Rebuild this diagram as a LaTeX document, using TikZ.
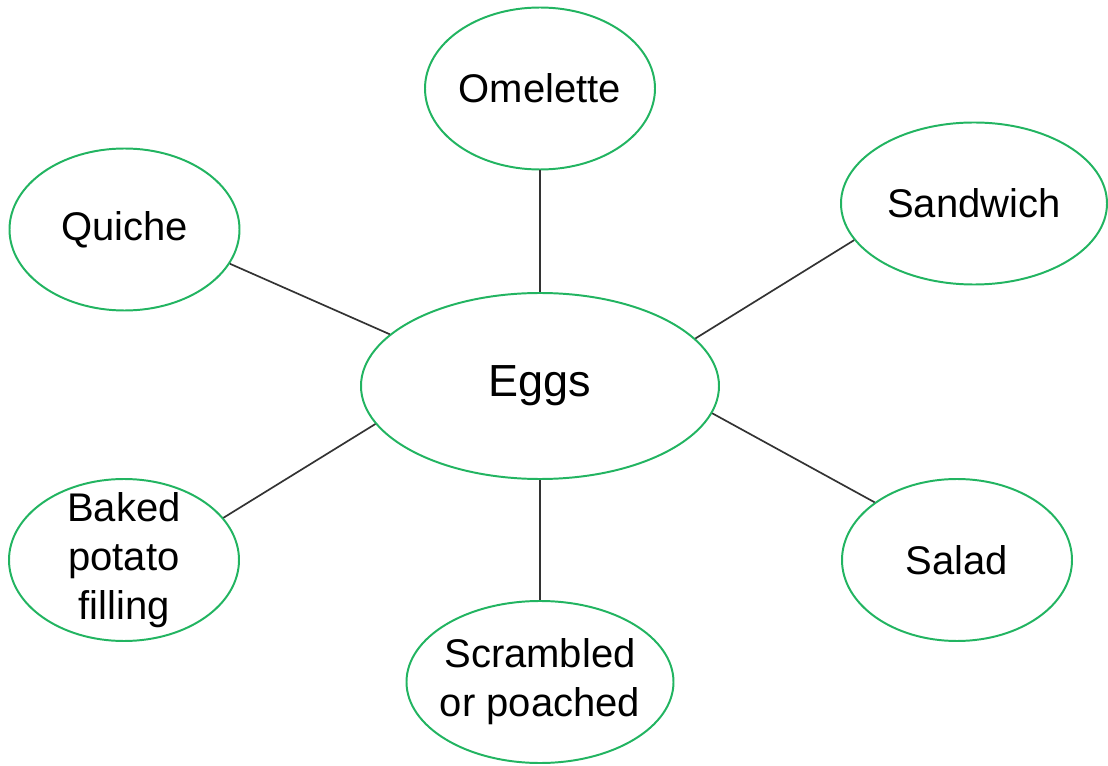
\documentclass[tikz,border=0pt]{standalone}
\usepackage{fontspec}
\setmainfont{Liberation Sans}
\usetikzlibrary{shapes.geometric}

\begin{document}
\begin{tikzpicture}[
  dish/.style={ellipse, draw=egg_green, line width=1.4pt, inner sep=-0.3cm,
    minimum width=5.75cm, minimum height=4.05cm, align=center,
    font=\fontsize{28.45}{34.9}\selectfont},
  link/.style={draw=black!80, line width=1.2pt}
]

\definecolor{egg_green}{HTML}{22B461}

\useasboundingbox (0,0) rectangle (27.7,19.125);

% centre
\node[dish, minimum width=8.95cm, minimum height=4.65cm,
  font=\fontsize{32}{38}\selectfont] (eggs) at (13.5,9.475) {Eggs};

% dishes round it
\node[dish] (omelette) at (13.5,16.9125) {Omelette};
\node[dish] (quiche) at (3.1125,13.3875) {Quiche};
\node[dish, minimum width=6.65cm] (sandwich) at (24.35,14.0375) {Sandwich};
\node[dish] (baked) at (3.1,5.125) {Baked\\potato\\filling};
\node[dish] (salad) at (23.925,5.125) {Salad};
\node[dish, minimum width=6.675cm] (scrambled) at (13.5,2.075) {Scrambled\\or poached};

\draw[link] (omelette.south) -- (eggs.north);
\draw[link] (quiche.-18.9) -- (eggs.161.3);
\draw[link] (sandwich.197.2) -- (eggs.17.8);
\draw[link] (baked.23) -- (eggs.193.5);
\draw[link] (salad.145.2) -- (eggs.-9.7);
\draw[link] (eggs.south) -- (scrambled.north);

\end{tikzpicture}
\end{document}
